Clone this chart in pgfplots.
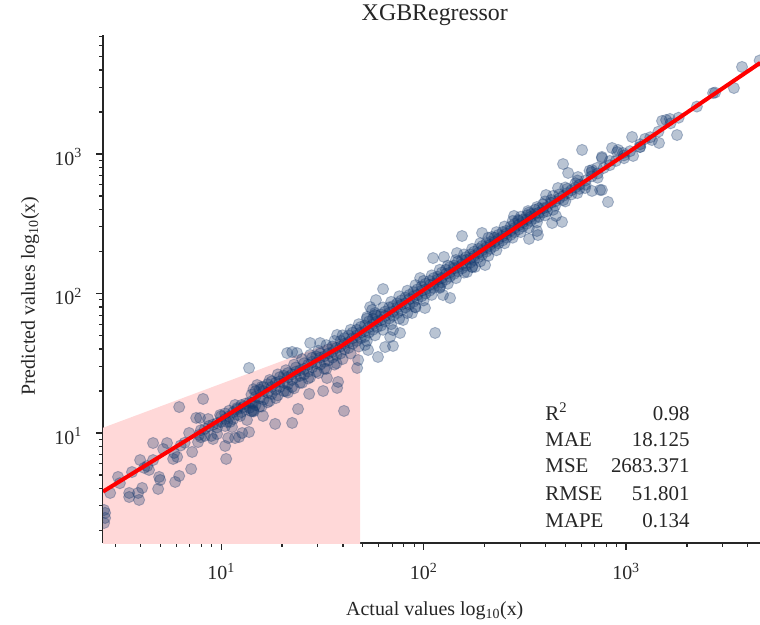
\documentclass[border=0pt]{standalone}
\usepackage{fontspec}
\setmainfont{Liberation Serif}
\usepackage{pgfplots}
\usepackage{pgfplotstable}
\pgfplotsset{compat=1.18}
\definecolor{pt}{RGB}{22,58,110}
\definecolor{pinkfill}{RGB}{255,216,216}
\definecolor{txt}{RGB}{38,38,38}

% log10 of actual (lx) and predicted (ly) values
\pgfplotstableread{
lx ly
0.422 0.355
0.427 0.391
0.427 0.427
0.422 0.448
0.452 0.570
0.491 0.685
0.546 0.570
0.546 0.541
0.590 0.570
0.595 0.520
0.610 0.606
0.600 0.806
0.664 0.928
0.733 0.928
0.714 0.885
0.644 0.735
0.635 0.763
0.664 0.806
0.694 0.685
0.699 0.663
0.689 0.599
0.773 0.649
0.793 0.692
0.763 0.814
0.783 0.828
0.768 0.857
0.793 1.186
0.852 0.742
0.857 0.864
0.842 1.000
0.891 0.986
0.886 0.935
0.877 1.108
0.896 1.108
0.911 1.244
0.960 0.957
0.951 0.979
0.980 0.993
0.936 1.100
0.995 1.129
1.030 1.079
1.025 0.814
1.020 0.907
1.035 0.964
1.069 0.964
1.089 0.971
1.104 1.000
1.138 1.007
1.054 1.043
1.044 1.079
1.079 1.179
1.069 1.201
1.109 1.186
1.128 1.093
1.094 1.122
1.158 1.158
1.158 1.215
1.178 1.344
0.50 0.64
0.56 0.72
0.62 0.75
0.80 0.91
0.82 0.93
0.90 1.02
0.90 0.97
0.94 1.05
0.92 1.03
0.92 0.98
0.96 1.06
0.98 1.07
0.98 1.04
1.00 1.08
1.00 1.12
1.02 1.10
1.02 1.14
1.02 1.05
1.04 1.12
1.04 1.16
1.06 1.15
1.06 1.10
1.08 1.17
1.08 1.13
1.10 1.20
1.10 1.15
1.12 1.21
1.12 1.17
1.14 1.22
1.14 1.18
1.138 1.466
1.267 1.065
1.351 1.072
1.380 1.172
1.435 1.280
1.504 1.301
1.607 1.158
1.207 1.122
1.158 1.165
1.573 1.323
1.578 1.366
1.523 1.394
1.672 1.466
1.677 1.523
1.326 1.573
1.351 1.581
1.375 1.573
1.440 1.645
1.489 1.645
1.573 1.703
1.775 1.545
1.726 1.595
1.711 1.631
1.736 1.903
1.721 1.832
1.760 1.846
1.15 1.215
1.15 1.155
1.15 1.275
1.17 1.26
1.17 1.20
1.17 1.30
1.19 1.25
1.19 1.31
1.19 1.19
1.21 1.30
1.21 1.24
1.21 1.33
1.23 1.29
1.23 1.35
1.23 1.22
1.25 1.33
1.25 1.28
1.25 1.37
1.27 1.31
1.27 1.36
1.27 1.25
1.29 1.37
1.29 1.33
1.29 1.40
1.31 1.36
1.31 1.30
1.31 1.41
1.33 1.40
1.33 1.35
1.33 1.43
1.33 1.29
1.35 1.42
1.35 1.38
1.35 1.33
1.37 1.44
1.37 1.40
1.37 1.47
1.39 1.45
1.39 1.41
1.39 1.36
1.41 1.46
1.41 1.50
1.41 1.42
1.43 1.49
1.43 1.44
1.43 1.39
1.45 1.51
1.45 1.47
1.45 1.54
1.47 1.50
1.47 1.55
1.47 1.44
1.49 1.54
1.49 1.49
1.49 1.57
1.51 1.55
1.51 1.51
1.51 1.46
1.53 1.57
1.53 1.60
1.53 1.52
1.55 1.58
1.55 1.54
1.55 1.62
1.57 1.61
1.57 1.56
1.57 1.50
1.59 1.62
1.59 1.66
1.59 1.57
1.61 1.64
1.61 1.60
1.61 1.68
1.63 1.65
1.63 1.70
1.63 1.61
1.65 1.68
1.65 1.64
1.65 1.72
1.67 1.70
1.67 1.66
1.67 1.74
1.69 1.72
1.69 1.68
1.69 1.76
1.71 1.73
1.71 1.77
1.71 1.69
1.73 1.76
1.73 1.72
1.73 1.80
1.75 1.78
1.75 1.74
1.75 1.82
1.77 1.80
1.77 1.76
1.77 1.84
1.79 1.81
1.79 1.85
1.79 1.77
1.81 1.84
1.81 1.80
1.81 1.87
1.83 1.86
1.83 1.82
1.83 1.90
1.85 1.87
1.85 1.91
1.85 1.84
1.87 1.90
1.87 1.86
1.87 1.93
1.89 1.92
1.89 1.88
1.89 1.95
1.91 1.93
1.91 1.97
1.91 1.90
1.93 1.96
1.93 1.92
1.93 1.99
1.95 1.98
1.95 1.94
1.95 2.01
1.97 1.99
1.97 2.03
1.97 1.96
1.99 2.02
1.99 1.98
1.99 2.05
2.01 2.03
2.01 2.07
2.01 2.00
2.03 2.06
2.03 2.02
2.03 2.09
2.05 2.07
2.05 2.11
2.05 2.04
2.07 2.10
2.07 2.06
2.07 2.12
2.09 2.11
2.09 2.15
2.09 2.08
2.11 2.14
2.11 2.10
2.11 2.17
2.13 2.15
2.13 2.19
2.13 2.12
2.15 2.18
2.15 2.14
2.15 2.20
2.17 2.19
2.17 2.23
2.17 2.16
2.19 2.21
2.19 2.18
2.19 2.24
2.21 2.24
2.21 2.20
2.21 2.26
2.23 2.25
2.23 2.28
2.23 2.22
2.25 2.27
2.25 2.24
2.25 2.30
2.27 2.29
2.27 2.32
2.27 2.26
2.29 2.31
2.29 2.28
2.29 2.34
2.31 2.33
2.31 2.36
2.31 2.30
2.33 2.35
2.33 2.32
2.33 2.37
2.35 2.37
2.35 2.40
2.35 2.34
2.37 2.39
2.37 2.36
2.37 2.42
2.39 2.41
2.39 2.44
2.39 2.38
2.41 2.43
2.41 2.40
2.41 2.45
2.43 2.45
2.43 2.48
2.43 2.42
2.45 2.47
2.45 2.44
2.45 2.50
2.47 2.49
2.47 2.52
2.47 2.46
2.49 2.51
2.49 2.48
2.49 2.53
2.51 2.53
2.51 2.56
2.51 2.50
2.53 2.55
2.53 2.52
2.53 2.57
2.55 2.57
2.55 2.60
2.55 2.54
2.57 2.58
2.57 2.55
2.57 2.61
2.59 2.61
2.59 2.64
2.59 2.58
2.61 2.62
2.61 2.59
2.63 2.65
2.63 2.67
2.65 2.66
2.65 2.63
2.67 2.68
2.67 2.71
2.69 2.70
2.69 2.67
2.71 2.72
2.71 2.75
2.73 2.74
2.73 2.71
2.75 2.76
2.75 2.79
2.77 2.78
2.77 2.75
2.80 2.81
2.80 2.78
2.83 2.84
2.83 2.87
2.86 2.86
2.86 2.83
2.89 2.90
2.92 2.92
2.92 2.95
2.95 2.95
2.99 2.99
2.99 2.97
3.02 3.02
3.07 3.07
3.07 3.05
3.12 3.12
3.16 3.16
3.22 3.22
3.26 3.26
3.35 3.34
3.44 3.44
1.16 1.314
1.16 1.154
1.20 1.33
1.20 1.19
1.24 1.38
1.24 1.23
1.28 1.42
1.28 1.27
1.32 1.45
1.32 1.30
1.36 1.49
1.36 1.32
1.40 1.53
1.40 1.36
1.44 1.56
1.44 1.40
1.48 1.59
1.48 1.43
1.52 1.63
1.52 1.46
1.56 1.66
1.56 1.49
1.60 1.70
1.60 1.53
1.64 1.74
1.64 1.57
1.68 1.78
1.68 1.62
1.72 1.82
1.72 1.66
1.76 1.86
1.76 1.70
1.80 1.90
1.80 1.74
1.84 1.94
1.84 1.78
1.88 1.98
1.88 1.82
1.92 2.02
1.92 1.86
1.96 2.06
1.96 1.90
2.00 2.09
2.00 1.95
2.04 2.13
2.04 1.99
2.08 2.17
2.08 2.04
2.12 2.20
2.12 2.07
2.16 2.24
2.16 2.11
2.20 2.28
2.20 2.15
2.24 2.32
2.24 2.19
2.28 2.36
2.28 2.23
2.32 2.40
2.32 2.27
2.36 2.44
2.36 2.31
2.40 2.48
2.40 2.36
2.44 2.52
2.44 2.40
2.48 2.55
2.48 2.44
2.52 2.58
2.52 2.47
2.56 2.62
2.56 2.51
2.60 2.66
2.60 2.56
2.64 2.70
2.64 2.60
2.70 2.76
2.70 2.66
2.76 2.81
2.76 2.72
2.82 2.88
1.800 2.032
2.057 1.717
1.810 1.616
1.849 1.624
1.983 2.111
2.131 1.968
2.096 1.989
2.081 2.047
1.958 1.903
2.007 1.896
1.943 1.860
1.899 1.810
1.884 1.717
1.849 1.738
1.835 1.688
1.765 1.953
1.746 1.882
2.190 2.412
2.289 2.434
2.338 2.405
2.047 2.254
2.101 2.262
2.240 2.190
2.304 2.204
2.215 2.154
2.165 2.290
2.783 3.029
2.931 3.043
2.956 3.014
2.881 2.971
2.689 2.928
2.714 2.864
2.763 2.835
2.911 2.656
2.881 2.742
2.832 2.735
2.798 2.756
2.605 2.706
2.664 2.756
2.684 2.513
2.635 2.505
2.654 2.556
2.521 2.391
2.565 2.419
2.560 2.448
2.516 2.591
2.467 2.527
2.447 2.556
2.254 2.190
3.573 3.624
3.533 3.473
3.430 3.437
3.198 3.244
3.217 3.251
3.178 3.237
3.252 3.136
3.163 3.079
3.128 3.100
3.094 3.108
3.069 3.050
3.030 3.122
2.961 3.029
2.985 3.007
3.035 2.986
2.881 2.979
2.857 2.900
2.832 2.885
2.872 2.742
3.660 3.670
}\pts

\begin{document}
\begin{tikzpicture}
\useasboundingbox (-103bp,-82bp) rectangle (657bp,543bp);
\begin{axis}[
  at={(0,0)}, anchor=south west,
  scale only axis, width=657bp, height=508bp,
  xmode=log, ymode=log,
  xmin=2.61, xmax=4590, ymin=1.627, ymax=7130,
  clip marker paths=true,
  axis lines*=left,
  axis line style={-, line width=1.3bp, black!85},
  tick align=outside,
  major tick length=7bp, minor tick length=4bp,
  tick style={line width=1.1bp, black!85},
  xtick={10,100,1000},
  xticklabels={10\textsuperscript{1},10\textsuperscript{2},10\textsuperscript{3}},
  minor xtick={3,4,5,6,7,8,9,20,30,40,50,60,70,80,90,200,300,400,500,600,700,800,900,2000,3000,4000},
  ytick={10,100,1000},
  yticklabels={10\textsuperscript{1},10\textsuperscript{2},10\textsuperscript{3}},
  minor ytick={2,3,4,5,6,7,8,9,20,30,40,50,60,70,80,90,200,300,400,500,600,700,800,900,2000,3000,4000,5000,6000,7000},
  tick label style={font=\fontsize{20}{24}\selectfont, text=txt},
  xticklabel style={anchor=base, inner sep=0pt, yshift=-30bp},
  yticklabel style={anchor=east, inner sep=0pt, xshift=-14bp, yshift=-3bp},
  label style={font=\fontsize{20}{24}\selectfont, text=txt},
  xlabel={Actual values log\textsubscript{10}(x)},
  ylabel={Predicted values log\textsubscript{10}(x)},
  xlabel style={at={(axis description cs:0.505,0)}, anchor=base, yshift=-72bp, inner sep=0pt},
  ylabel style={at={(axis description cs:-0.1035,0.486)}, anchor=base, inner sep=0pt},
  title={XGBRegressor},
  title style={font=\fontsize{24}{28}\selectfont, text=txt, at={(axis description cs:0.505,1)}, anchor=base, yshift=9bp, inner sep=0pt},
]
\addplot[draw=none, fill=pinkfill] coordinates {(2.61,10.9) (48.6,53) (48.6,1.5) (2.61,1.5)} -- cycle;
\addplot[only marks, mark=*, mark size=5.6bp,
  mark options={draw=pt, fill=pt, opacity=0.3, line width=0.9bp}]
  table[x expr={10^(\thisrow{lx})}, y expr={10^(\thisrow{ly})}] {\pts};
\addplot[red, line width=4bp] coordinates {(2.61,3.8) (10,12.6) (24.5,28.3) (38.7,41.4) (100,106) (239,250) (933,936) (4600,4500)};
\node[anchor=base west, font=\fontsize{21}{25}\selectfont, text=txt] at (axis description cs:0.668,0.242) {R\textsuperscript{2}};
\node[anchor=base west, font=\fontsize{21}{25}\selectfont, text=txt] at (axis description cs:0.668,0.189) {MAE};
\node[anchor=base west, font=\fontsize{21}{25}\selectfont, text=txt] at (axis description cs:0.668,0.138) {MSE};
\node[anchor=base west, font=\fontsize{21}{25}\selectfont, text=txt] at (axis description cs:0.668,0.0846) {RMSE};
\node[anchor=base west, font=\fontsize{21}{25}\selectfont, text=txt] at (axis description cs:0.668,0.0315) {MAPE};
\node[anchor=base east, font=\fontsize{21}{25}\selectfont, text=txt] at (axis description cs:0.898,0.242) {0.98};
\node[anchor=base east, font=\fontsize{21}{25}\selectfont, text=txt] at (axis description cs:0.898,0.189) {18.125};
\node[anchor=base east, font=\fontsize{21}{25}\selectfont, text=txt] at (axis description cs:0.898,0.138) {2683.371};
\node[anchor=base east, font=\fontsize{21}{25}\selectfont, text=txt] at (axis description cs:0.898,0.0846) {51.801};
\node[anchor=base east, font=\fontsize{21}{25}\selectfont, text=txt] at (axis description cs:0.898,0.0315) {0.134};
\end{axis}
\end{tikzpicture}
\end{document}
